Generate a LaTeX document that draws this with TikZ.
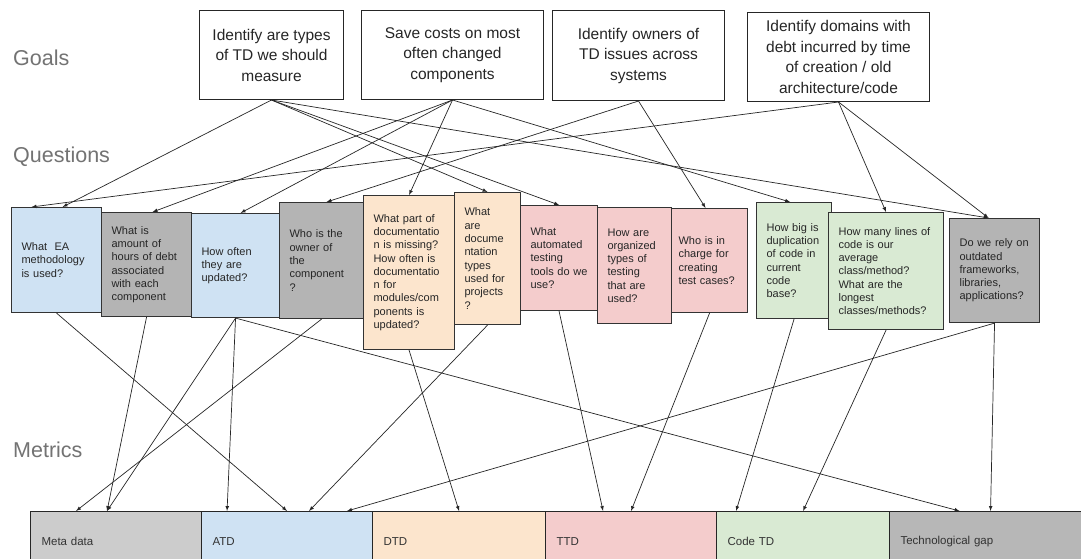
\documentclass[tikz,border=0pt]{standalone}
\usepackage{fontspec}
\setmainfont{Liberation Sans}

\definecolor{qblue}{HTML}{CFE2F3}
\definecolor{qgray}{HTML}{B4B4B4}
\definecolor{qpeach}{HTML}{FCE5CD}
\definecolor{qpink}{HTML}{F4CCCC}
\definecolor{qgreen}{HTML}{D9EAD3}
\definecolor{mgray}{HTML}{CCCCCC}
\definecolor{tgray}{HTML}{B7B7B7}

\tikzset{
  goal/.style={draw=black!85, line width=1pt, fill=white, anchor=north west,
    align=center, inner sep=2pt, text=black!85,
    font=\fontsize{15.5}{20.5}\selectfont},
  quest/.style={draw=black!80, line width=1.1pt, anchor=north west, align=left,
    inner xsep=10pt, inner ysep=2pt, text=black!85,
    font=\fontsize{11}{13.3}\selectfont},
  metric/.style={draw=black!85, line width=1.1pt, anchor=north west, align=left,
    inner xsep=11pt, minimum height=60pt, text=black!80,
    font=\fontsize{11.5}{14}\selectfont},
  layer/.style={anchor=west, inner sep=0pt, text=black!55,
    font=\fontsize{21.5}{26}\selectfont},
  link/.style={-latex, line width=0.7pt, black!85},
}

\begin{document}
\begin{tikzpicture}[x=1pt,y=-1pt]
  \useasboundingbox (0,0) rectangle (1081,559);
  \fill[white] (0,0) rectangle (1081,559);

  \node[layer] (goals) at (13,58) {Goals};
  \node[layer] (questions) at (13,157) {Questions};
  \node[layer] (metrics) at (13,450) {Metrics};

  \node[goal, minimum width=144pt, minimum height=89pt] (g1) at (199,10)
    {Identify are types\\of TD we should\\measure};
  \node[goal, minimum width=182pt, minimum height=89pt] (g2) at (361,10)
    {Save costs on most\\often changed\\components};
  \node[goal, minimum width=172pt, minimum height=90pt] (g3) at (552,10)
    {Identify owners of\\TD issues across\\systems};
  \node[goal, minimum width=182pt, minimum height=89pt] (g4) at (747,12)
    {Identify domains with\\debt incurred by time\\of creation / old\\architecture/code};

  \node[quest, fill=qblue, text width=70pt, minimum height=105pt] (q1) at (11,207)
    {What\ \ EA\\methodology\\is used?};
  \node[quest, fill=qgray, text width=70pt, minimum height=104pt] (q2) at (101,212)
    {What is\\amount of\\hours of debt\\associated\\with each\\component};
  \node[quest, fill=qblue, text width=68pt, minimum height=104pt] (q3) at (191,213)
    {How often\\they are\\updated?};
  \node[quest, fill=qgray, text width=64pt, minimum height=116pt] (q4) at (279,202)
    {Who is the\\owner of\\the\\component\\?};
  \node[quest, fill=qpeach, text width=71pt, minimum height=154pt] (q5) at (363,195)
    {What part of\\documentatio\\n is missing?\\How often is\\documentatio\\n for\\modules/com\\ponents is\\updated?};
  \node[quest, fill=qpeach, text width=46pt, minimum height=132pt] (q6) at (454,192)
    {What\\are\\docume\\ntation\\types\\used for\\projects\\?};
  \node[quest, fill=qpink, text width=57pt, minimum height=105pt] (q7) at (520,205)
    {What\\automated\\testing\\tools do we\\use?};
  \node[quest, fill=qpink, text width=54pt, minimum height=116pt] (q8) at (597,207)
    {How are\\organized\\types of\\testing\\that are\\used?};
  \node[quest, fill=qpink, inner xsep=7pt, text width=62pt, minimum height=104pt] (q9) at (671,208)
    {Who is in\\charge for\\creating\\test cases?};
  \node[quest, fill=qgreen, text width=55pt, minimum height=116pt] (q10) at (756,202)
    {How big is\\duplication\\of code in\\current\\code\\base?};
  \node[quest, fill=qgreen, text width=95pt, minimum height=117pt] (q11) at (828,212)
    {How many lines of\\code is our\\average\\class/method?\\What are the\\longest\\classes/methods?};
  \node[quest, fill=qgray, text width=70pt, minimum height=104pt] (q12) at (949,218)
    {Do we rely on\\outdated\\frameworks,\\libraries,\\applications?};

  \node[metric, fill=mgray, text width=149pt] (meta) at (30,511) {Meta data};
  \node[metric, fill=qblue, text width=149pt] (atd) at (201,511) {ATD};
  \node[metric, fill=qpeach, text width=151pt] (dtd) at (372,511) {DTD};
  \node[metric, fill=qpink, text width=149pt] (ttd) at (545,511) {TTD};
  \node[metric, fill=qgreen, text width=151pt] (code) at (716,511) {Code TD};
  \node[metric, fill=tgray, text width=174pt] (tech) at (889,511) {Technological gap};

  % goals to questions
  \foreach \from/\to/\dx in {g1/q1/6, g1/q6/0, g1/q7/0, g1/q12/-6,
      g2/q2/6, g2/q3/5, g2/q5/0, g2/q10/-4,
      g3/q4/5, g3/q9/-4,
      g4/q1/-25, g4/q11/0, g4/q12/-6}
    \draw[link] (\from.south) -- ([xshift=\dx pt]\to.north);

  % questions to metrics
  \foreach \from/\to/\dx in {q1/atd/0, q2/meta/-9, q3/meta/-9, q3/atd/-60,
      q3/tech/-28, q4/meta/-40, q5/dtd/0, q6/atd/22, q7/ttd/-28,
      q9/ttd/0, q10/code/-67, q11/code/0, q12/atd/60, q12/tech/3}
    \draw[link] (\from.south) -- ([xshift=\dx pt]\to.north);
\end{tikzpicture}
\end{document}
